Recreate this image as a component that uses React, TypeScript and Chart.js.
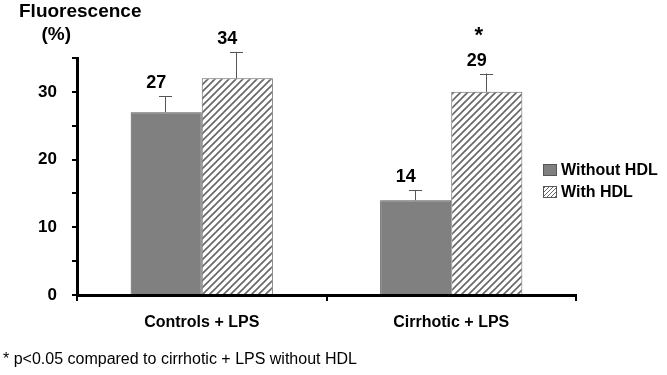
import React, { useEffect, useRef } from "react";
import { Chart, registerables } from "chart.js";

Chart.register(...registerables);

// ---- data ----
const categories = ["Controls + LPS", "Cirrhotic + LPS"];
const seriesNames = ["Without HDL", "With HDL"];
const withoutHdl = [27, 14];
const withHdl = [32, 30];
const withoutHdlErr = [2.4, 1.5];
const withHdlErr = [3.9, 2.7];
const withoutHdlLabels = ["27", "14"];
const withHdlLabels = ["34", "29"];
const withHdlMarks = ["", "*"];
const yLabelTicks = [0, 10, 20, 30];
const titleLines = ["Fluorescence", "(%)"];
const footnote = "* p<0.05 compared to cirrhotic + LPS without HDL";

const FONT = '"Liberation Sans", Arial, Helvetica, sans-serif';

function makeHatch(spacing: number, lw: number, color: string): CanvasPattern {
  const c = document.createElement("canvas");
  c.width = spacing;
  c.height = spacing;
  const g = c.getContext("2d")!;
  g.fillStyle = "#ffffff";
  g.fillRect(0, 0, spacing, spacing);
  g.strokeStyle = color;
  g.lineWidth = lw;
  g.beginPath();
  g.moveTo(-1, spacing + 1);
  g.lineTo(spacing + 1, -1);
  g.moveTo(-1, 1);
  g.lineTo(1, -1);
  g.moveTo(spacing - 1, spacing + 1);
  g.lineTo(spacing + 1, spacing - 1);
  g.stroke();
  return g.createPattern(c, "repeat")!;
}

export default function App() {
  const ref = useRef<HTMLCanvasElement | null>(null);

  useEffect(() => {
    if (!ref.current) return;
    const hatch = makeHatch(7, 1.6, "#666666");
    const hatchSmall = makeHatch(4, 1, "#666666");
    const solid = "#808080";
    const errs = [withoutHdlErr, withHdlErr];
    const valueLabels = [withoutHdlLabels, withHdlLabels];
    const marks = [["", ""], withHdlMarks];

    const annotations = {
      id: "annotations",
      afterDatasetsDraw(chart: any) {
        const ctx = chart.ctx;
        const yScale = chart.scales.y;
        ctx.save();
        chart.data.datasets.forEach((ds: any, di: number) => {
          const meta = chart.getDatasetMeta(di);
          meta.data.forEach((bar: any, i: number) => {
            const v = ds.data[i];
            const top = yScale.getPixelForValue(v + errs[di][i]);
            const barTop = yScale.getPixelForValue(v);
            const x = Math.round(bar.x - 1) + 0.5;
            ctx.strokeStyle = "#555";
            ctx.lineWidth = 1;
            ctx.beginPath();
            ctx.moveTo(x, barTop);
            ctx.lineTo(x, top);
            ctx.moveTo(x - 6.5, Math.round(top) + 0.5);
            ctx.lineTo(x + 6.5, Math.round(top) + 0.5);
            ctx.stroke();
            ctx.fillStyle = "#000";
            ctx.font = `bold 18px ${FONT}`;
            ctx.textAlign = "center";
            ctx.textBaseline = "alphabetic";
            const base = top - 8;
            ctx.fillText(valueLabels[di][i], bar.x - 10, base);
            if (marks[di][i]) {
              ctx.font = `bold 22px ${FONT}`;
              ctx.fillText(marks[di][i], bar.x - 8, base - 24);
            }
          });
        });
        ctx.restore();
      },
      afterDraw(chart: any) {
        const ctx = chart.ctx;
        const area = chart.chartArea;
        ctx.save();
        ctx.fillStyle = "#000";
        ctx.textBaseline = "alphabetic";
        ctx.textAlign = "left";
        ctx.font = `bold 19px ${FONT}`;
        ctx.fillText(titleLines[0], 19, 17);
        ctx.fillText(titleLines[1], 41.5, 40);
        ctx.font = `16px ${FONT}`;
        ctx.fillText(footnote, 3, 364);

        // legend
        const lx = area.right - 33;
        const ly = area.top + 117;
        const fills = [solid, hatchSmall];
        chart.data.datasets.forEach((ds: any, di: number) => {
          const baseY = ly + di * 22;
          ctx.fillStyle = fills[di] as any;
          ctx.fillRect(lx, baseY - 11, 14, 12);
          ctx.strokeStyle = "#555";
          ctx.lineWidth = 1;
          ctx.strokeRect(lx + 0.5, baseY - 10.5, 13, 11);
          ctx.fillStyle = "#000";
          ctx.font = `bold 16px ${FONT}`;
          ctx.fillText(ds.label, lx + 18, baseY);
        });
        ctx.restore();
      },
    };

    const chart = new Chart(ref.current, {
      type: "bar",
      data: {
        labels: categories,
        datasets: [
          {
            label: seriesNames[0],
            data: withoutHdl,
            backgroundColor: solid,
            borderColor: "#555",
            borderWidth: 1,
            categoryPercentage: 0.57,
            barPercentage: 1.0,
          },
          {
            label: seriesNames[1],
            data: withHdl,
            backgroundColor: hatch as any,
            borderColor: "#666",
            borderWidth: 1,
            categoryPercentage: 0.57,
            barPercentage: 1.0,
          },
        ],
      },
      options: {
        animation: false,
        responsive: false,
        maintainAspectRatio: false,
        layout: { padding: { top: 58, right: 91, bottom: 0, left: 0 } },
        plugins: {
          legend: { display: false },
          tooltip: { enabled: false },
          title: { display: false },
        },
        scales: {
          x: {
            type: "category",
            offset: true,
            grid: {
              offset: true,
              drawOnChartArea: false,
              drawTicks: true,
              tickLength: 6,
              color: "#000",
              lineWidth: 2,
            },
            border: { display: true, color: "#000", width: 3 },
            ticks: {
              color: "#000",
              font: { family: FONT, size: 16, weight: "bold" },
              padding: 12,
              maxRotation: 0,
            },
            afterFit(scale: any) {
              scale.height = 80;
            },
          },
          y: {
            min: 0,
            max: 35,
            grid: {
              drawOnChartArea: false,
              drawTicks: true,
              tickLength: 5,
              color: "#000",
              lineWidth: 2,
            },
            border: { display: true, color: "#000", width: 3 },
            ticks: {
              stepSize: 5,
              color: "#000",
              font: { family: FONT, size: 17, weight: "bold" },
              padding: 15,
              callback: (v: any) => (yLabelTicks.includes(Number(v)) ? String(v) : ""),
            },
            afterFit(scale: any) {
              scale.width = 77;
            },
          },
        },
      },
      plugins: [annotations],
    });
    return () => chart.destroy();
  }, []);

  return (
    <div style={{ position: "absolute", left: 0, top: 0, width: 667, height: 375, background: "#fff" }}>
      <canvas ref={ref} width={667} height={375} style={{ display: "block" }} />
    </div>
  );
}
